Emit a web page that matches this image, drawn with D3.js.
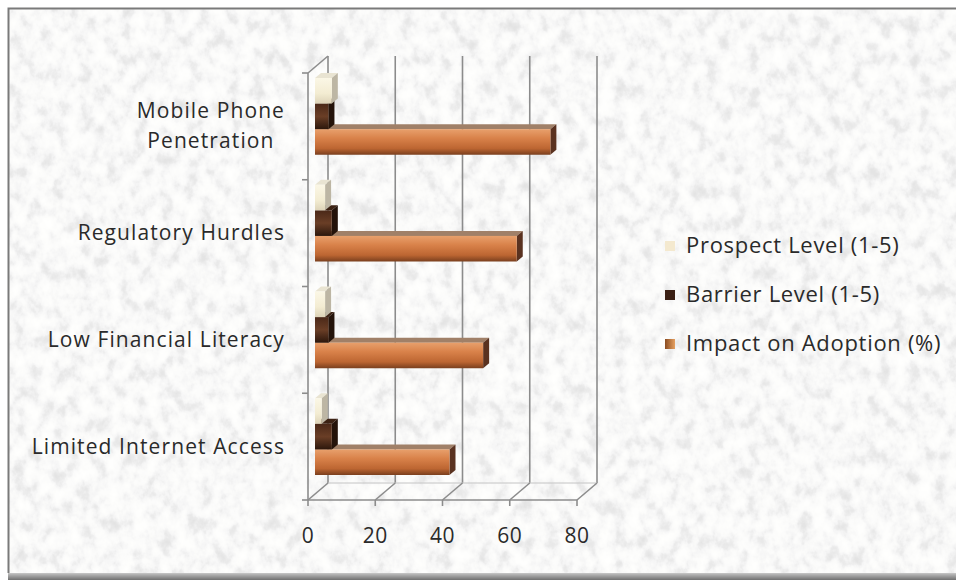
<!DOCTYPE html>
<html>
<head>
<meta charset="utf-8">
<script src="https://cdn.jsdelivr.net/npm/d3@7"></script>
<style>
  body { margin: 0; background: #fff; }
  svg { display: block; }
</style>
</head>
<body>
<div id="chart"></div>
<script>
// data (categories listed bottom -> top, as the chart draws them)
const categories = ["Limited Internet Access", "Low Financial Literacy", "Regulatory Hurdles", "Mobile Phone Penetration"];
const seriesNames = ["Prospect Level (1-5)", "Barrier Level (1-5)", "Impact on Adoption (%)"];
const prospectLevel = [2, 3, 3, 5];
const barrierLevel = [5, 4, 5, 4];
const impactOnAdoption = [40, 50, 60, 70];
const xTicks = [0, 20, 40, 60, 80];

const W = 956, H = 580;
const depth = {dx: 20, dy: -17};   // floor / wall depth
const barOff = {dx: 7, dy: -9};    // bars sit a bit into the box
const cap = {dx: 6, dy: -5};       // bar thickness

const svg = d3.select("#chart").append("svg")
    .attr("width", W)
    .attr("height", H);

const defs = svg.append("defs");

// granite-ish background texture
const tex = defs.append("filter").attr("id", "granite")
    .attr("x", 0).attr("y", 0).attr("width", "100%").attr("height", "100%");
tex.append("feTurbulence")
    .attr("type", "fractalNoise")
    .attr("baseFrequency", "0.075 0.06")
    .attr("numOctaves", 4)
    .attr("seed", 7)
    .attr("result", "noise");
tex.append("feColorMatrix")
    .attr("in", "noise")
    .attr("type", "matrix")
    .attr("values", "1 0 0 0 0  1 0 0 0 0  1 0 0 0 0  0 0 0 0 1")
    .attr("result", "grey");
tex.append("feComponentTransfer").attr("in", "grey")
    .call(f => {
        f.append("feFuncR").attr("type", "table").attr("tableValues", "0.76 0.78 0.83 0.92 0.97 0.99 1 1");
        f.append("feFuncG").attr("type", "table").attr("tableValues", "0.76 0.78 0.83 0.92 0.97 0.99 1 1");
        f.append("feFuncB").attr("type", "table").attr("tableValues", "0.76 0.78 0.83 0.92 0.96 0.98 0.99 0.99");
    });

function vGrad(id, stops) {
    const g = defs.append("linearGradient").attr("id", id)
        .attr("x1", 0).attr("y1", 0).attr("x2", 0).attr("y2", 1);
    stops.forEach(s => g.append("stop").attr("offset", s[0]).attr("stop-color", s[1]));
}
vGrad("gImpact", [[0, "#e8a06c"], [0.35, "#d9824a"], [0.75, "#bd6632"], [1, "#7a3f1e"]]);
vGrad("gBarrier", [[0, "#4a2818"], [0.5, "#6a3e26"], [1, "#2c170c"]]);
vGrad("gProspect", [[0, "#fbf7e6"], [0.6, "#f3ecd2"], [1, "#ddd3b8"]]);
vGrad("gShadow", [[0, "#ffffff"], [0.4, "#b8b8b8"], [1, "#707070"]]);

const style = {
    "Prospect Level (1-5)": {front: "url(#gProspect)", top: "#e9e4d2", side: "#bdb6a4", key: "#f4e9cf"},
    "Barrier Level (1-5)": {front: "url(#gBarrier)", top: "#3c2214", side: "#24130a", key: "#3b2014"},
    "Impact on Adoption (%)": {front: "url(#gImpact)", top: "#a08068", side: "#5a3220", key: "url(#gImpactKey)"}
};
const gk = defs.append("linearGradient").attr("id", "gImpactKey")
    .attr("x1", 0).attr("y1", 0).attr("x2", 1).attr("y2", 0);
gk.append("stop").attr("offset", 0).attr("stop-color", "#8a4c22");
gk.append("stop").attr("offset", 1).attr("stop-color", "#e6a060");

// frame + texture
svg.append("rect")
    .attr("x", 8).attr("y", 570).attr("width", W - 8).attr("height", 10)
    .attr("fill", "url(#gShadow)");
svg.append("rect")
    .attr("x", 8).attr("y", 8).attr("width", W - 8).attr("height", 565)
    .attr("fill", "#f4f4f2")
    .attr("filter", "url(#granite)");
svg.append("path")
    .attr("d", `M${W},8.5H8.5V573`)
    .attr("fill", "none")
    .attr("stroke", "#7a7a7a")
    .attr("stroke-width", 2);

// scales
const x = d3.scaleLinear().domain([0, 80]).range([308, 577]);
const y = d3.scaleBand().domain(categories.slice().reverse()).range([73, 500]);
const ys = d3.scaleBand().domain(seriesNames).range([14, y.bandwidth() - 16]);

const yTop = y.range()[0], yBot = y.range()[1];
const gridCol = "#8c8c8c";
const frame = svg.append("g").attr("fill", "none").attr("stroke", gridCol).attr("stroke-width", 1.6);

// back wall gridlines
frame.selectAll(".grid").data(xTicks).enter().append("line")
    .attr("x1", d => x(d) + depth.dx).attr("x2", d => x(d) + depth.dx)
    .attr("y1", yTop + depth.dy).attr("y2", yBot + depth.dy);
// floor: front edge, depth lines, back edge
frame.append("line")
    .attr("x1", x(0)).attr("x2", x(80)).attr("y1", yBot).attr("y2", yBot);
frame.append("line")
    .attr("x1", x(0) + depth.dx).attr("x2", x(80) + depth.dx)
    .attr("y1", yBot + depth.dy).attr("y2", yBot + depth.dy)
    .attr("stroke", "#c4c4c4").attr("stroke-width", 1);
frame.selectAll(".floor").data(xTicks).enter().append("line")
    .attr("x1", d => x(d)).attr("x2", d => x(d) + depth.dx)
    .attr("y1", yBot).attr("y2", yBot + depth.dy);
// side wall
frame.append("line")
    .attr("x1", x(0)).attr("x2", x(0)).attr("y1", yTop).attr("y2", yBot);
frame.append("line")
    .attr("x1", x(0)).attr("x2", x(0) + depth.dx).attr("y1", yTop).attr("y2", yTop + depth.dy);
// axis ticks
const yEdges = y.domain().map(c => y(c)).concat([yBot]);
frame.selectAll(".ytick").data(yEdges).enter().append("line")
    .attr("x1", x(0) - 6).attr("x2", x(0)).attr("y1", d => d).attr("y2", d => d);
frame.selectAll(".xtick").data(xTicks).enter().append("line")
    .attr("x1", d => x(d)).attr("x2", d => x(d)).attr("y1", yBot).attr("y2", yBot + 6);

// bars
const rows = categories.map((c, i) => ({
    cat: c,
    vals: [
        {name: seriesNames[0], v: prospectLevel[i]},
        {name: seriesNames[1], v: barrierLevel[i]},
        {name: seriesNames[2], v: impactOnAdoption[i]}
    ]
}));

const barG = svg.append("g");
rows.forEach(r => {
    // lower bars first so the bar above covers their top faces
    r.vals.slice().reverse().forEach(d => {
        const x0 = x(0) + barOff.dx, x1 = x(d.v) + barOff.dx;
        const t = y(r.cat) + ys(d.name) + barOff.dy, b = t + ys.bandwidth();
        const s = style[d.name];
        const g = barG.append("g");
        g.append("path")
            .attr("d", `M${x0},${t}L${x1},${t}L${x1 + cap.dx},${t + cap.dy}L${x0 + cap.dx},${t + cap.dy}Z`)
            .attr("fill", s.top);
        g.append("path")
            .attr("d", `M${x1},${t}L${x1 + cap.dx},${t + cap.dy}L${x1 + cap.dx},${b + cap.dy}L${x1},${b}Z`)
            .attr("fill", s.side);
        g.append("rect")
            .attr("x", x0).attr("y", t)
            .attr("width", x1 - x0).attr("height", b - t)
            .attr("fill", s.front);
    });
});

// x tick labels
const font = "'Open Sans', 'DejaVu Sans', sans-serif";
svg.append("g").selectAll("text").data(xTicks).enter().append("text")
    .attr("x", d => x(d))
    .attr("y", 543)
    .attr("text-anchor", "middle")
    .style("font-family", font)
    .style("font-size", "21px")
    .style("letter-spacing", "0.5px")
    .attr("fill", "#2a2a2a")
    .text(d => d);

// category labels, wrapped when too wide
const labelRight = 285, labelMax = 268;
const catG = svg.append("g")
    .style("font-family", font)
    .style("font-size", "21px")
    .style("letter-spacing", "1.1px")
    .attr("fill", "#2a2a2a");
const measure = s => {
    const p = catG.append("text").text(s);
    const w = p.node().getComputedTextLength();
    p.remove();
    return w;
};
categories.forEach(c => {
    let lines = [c];
    if (measure(c) > labelMax) {
        const words = c.split(" ");
        lines = [words.slice(0, -1).join(" "), words[words.length - 1]];
    }
    const cy = y(c) + y.bandwidth() / 2;
    const lh = 30;
    const widths = lines.map(measure);
    const cx = labelRight - d3.max(widths) / 2;
    const txt = catG.append("text").attr("text-anchor", "middle");
    lines.forEach((l, i) => {
        txt.append("tspan")
            .attr("x", cx)
            .attr("y", cy + (i - (lines.length - 1) / 2) * lh + 7)
            .text(l);
    });
});

// legend
const legend = svg.append("g").attr("transform", "translate(665,246)");
const li = legend.selectAll(".legend").data(seriesNames).enter().append("g")
    .attr("transform", (d, i) => "translate(0," + i * 49 + ")");
li.append("rect")
    .attr("x", 0).attr("y", -5)
    .attr("width", 10).attr("height", 10)
    .attr("fill", d => style[d].key);
li.append("text")
    .attr("x", 21).attr("y", 7)
    .style("font-family", font)
    .style("font-size", "22px")
    .style("letter-spacing", "0.7px")
    .attr("fill", "#2a2a2a")
    .text(d => d);
</script>
</body>
</html>
